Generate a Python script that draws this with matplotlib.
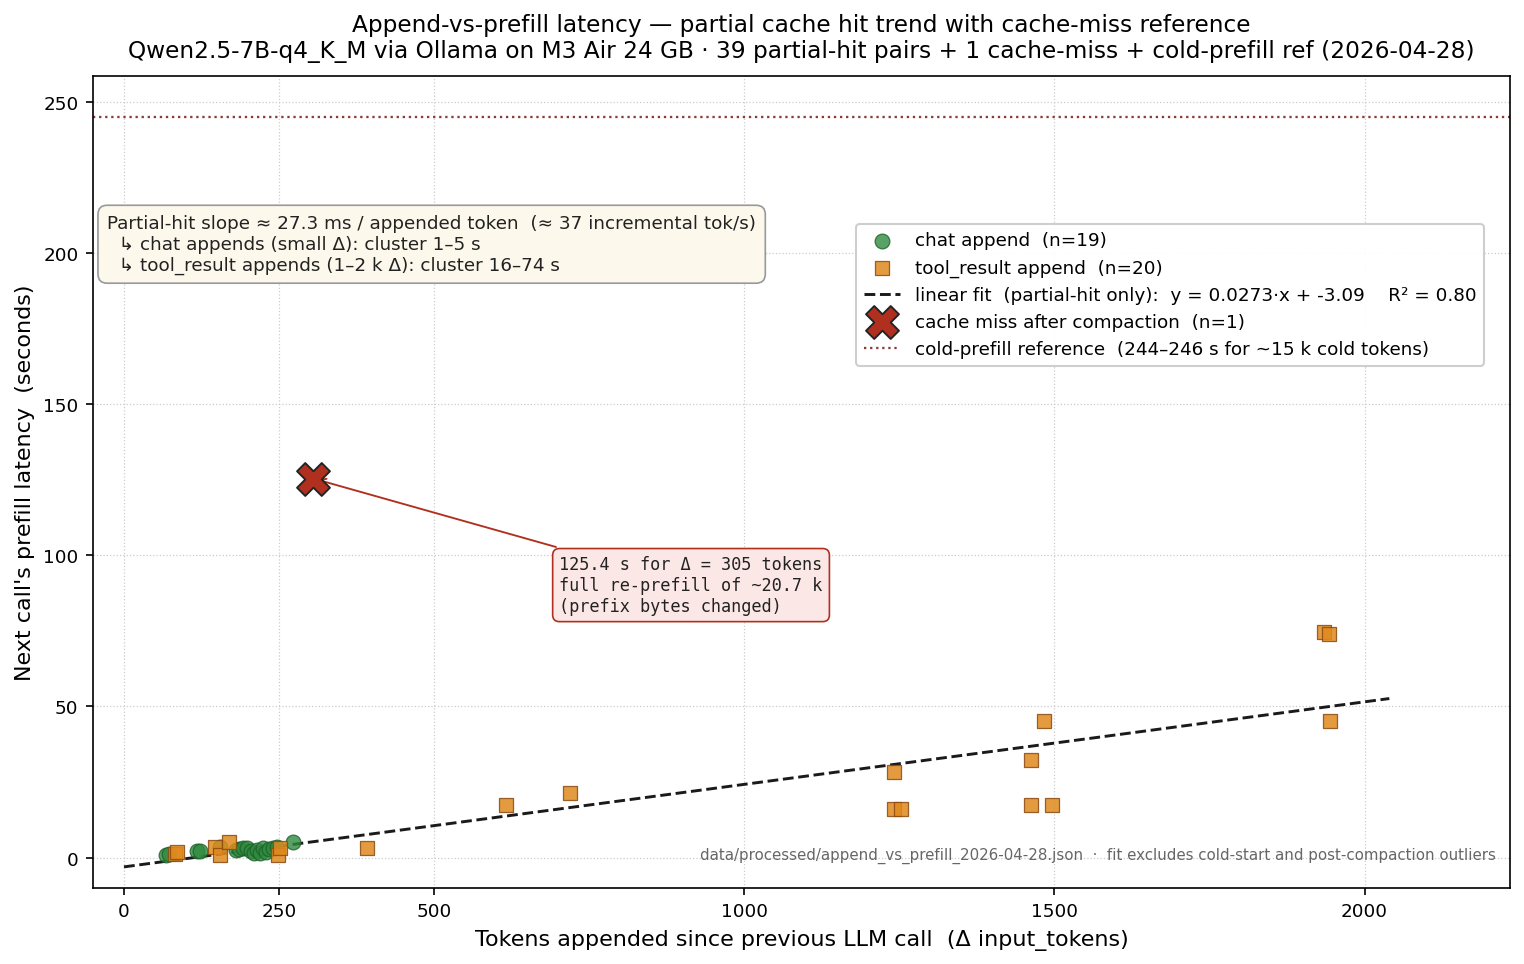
import matplotlib
matplotlib.use("Agg")
import matplotlib.pyplot as plt
import numpy as np

# chat appends: delta input tokens vs next-call prefill latency (s)
chat_dx = [68, 72, 118, 122, 155, 180, 186, 192, 199, 205, 210, 214, 219, 224, 229, 234, 240, 246, 272]
chat_lat = [1.0, 1.3, 2.3, 2.1, 3.6, 2.4, 2.7, 3.0, 3.1, 2.2, 1.6, 2.5, 1.4, 3.0, 1.8, 2.7, 3.2, 3.6, 5.2]

# tool_result appends
tool_dx = [82, 85, 147, 155, 169, 248, 251, 392, 616, 719, 1241, 1241, 1252,
           1462, 1463, 1483, 1496, 1935, 1942, 1944]
tool_lat = [1.3, 1.8, 3.6, 0.7, 5.0, 1.0, 3.3, 3.0, 17.5, 21.5, 28.4, 15.9, 15.9,
            17.5, 32.4, 45.3, 17.5, 74.5, 73.8, 45.3]

# cache miss after compaction
miss_dx = [305]
miss_lat = [125.4]

# fit (partial-hit only)
fit_slope = 0.0273
fit_intercept = -3.09
fit_r2 = 0.80
fit_xmax = 2040

cold_ref = 245

fig, ax = plt.subplots(figsize=(10.16, 6.4333), dpi=150)

ax.scatter(chat_dx, chat_lat, s=50, marker="o", color="#2e8b3e", alpha=0.8,
           edgecolors="#1e5e2a", linewidths=0.6, label="chat append  (n=19)", zorder=3)
ax.scatter(tool_dx, tool_lat, s=45, marker="s", color="#e08a1e", alpha=0.85,
           edgecolors="#8b4a10", linewidths=0.6, label="tool_result append  (n=20)", zorder=3)

xf = np.array([0, fit_xmax])
ax.plot(xf, fit_slope * xf + fit_intercept, "--", color="#1a1a1a", lw=1.4,
        label=f"linear fit  (partial-hit only):  y = {fit_slope:.4f}·x + {fit_intercept:.2f}    R² = {fit_r2:.2f}",
        zorder=2)

ax.scatter(miss_dx, miss_lat, s=250, marker="X", color="#b03020",
           edgecolors="#222222", linewidths=0.9, label="cache miss after compaction  (n=1)", zorder=4)

ax.axhline(cold_ref, color="#8b3a3a", ls=":", lw=1.1,
           label="cold-prefill reference  (244–246 s for ~15 k cold tokens)")

ax.annotate("125.4 s for Δ = 305 tokens\nfull re-prefill of ~20.7 k\n(prefix bytes changed)",
            xy=(miss_dx[0], miss_lat[0]), xytext=(702, 100),
            fontsize=8.1, family="DejaVu Sans Mono", va="top", ha="left",
            color="#222222",
            bbox=dict(boxstyle="round,pad=0.4", fc="#fbe8e6", ec="#b03020", lw=0.8),
            arrowprops=dict(arrowstyle="->", color="#b03020", lw=0.9))

ax.text(0.01, 0.83,
        "Partial-hit slope ≈ 27.3 ms / appended token  (≈ 37 incremental tok/s)\n"
        "  ↳ chat appends (small Δ): cluster 1–5 s\n"
        "  ↳ tool_result appends (1–2 k Δ): cluster 16–74 s",
        transform=ax.transAxes, fontsize=8.8, va="top", ha="left", color="#222222",
        bbox=dict(boxstyle="round,pad=0.5", fc="#fdf8ec", ec="#999999", lw=0.8))

ax.text(0.99, 0.03,
        "data/processed/append_vs_prefill_2026-04-28.json  ·  fit excludes cold-start and post-compaction outliers",
        transform=ax.transAxes, fontsize=7.2, color="#666666", ha="right", va="bottom")

ax.set_xlim(-50, 2235)
ax.set_ylim(-10, 258.5)
ax.set_xticks([0, 250, 500, 1000, 1500, 2000])
ax.set_yticks([0, 50, 100, 150, 200, 250])
ax.tick_params(labelsize=8.8)
ax.grid(True, ls=":", color="#cccccc", lw=0.6)

ax.set_xlabel("Tokens appended since previous LLM call  (Δ input_tokens)", fontsize=10.7)
ax.set_ylabel("Next call's prefill latency  (seconds)", fontsize=10.7)
ax.set_title("Append-vs-prefill latency — partial cache hit trend with cache-miss reference\n"
             "Qwen2.5-7B-q4_K_M via Ollama on M3 Air 24 GB · 39 partial-hit pairs + 1 cache-miss + cold-prefill ref (2026-04-28)",
             fontsize=11.2, pad=9)

ax.legend(loc="upper right", bbox_to_anchor=(0.988, 0.829), fontsize=8.8, framealpha=0.95)

fig.subplots_adjust(left=0.061, right=0.991, top=0.92, bottom=0.079)
fig.savefig("out.png", dpi=150)
